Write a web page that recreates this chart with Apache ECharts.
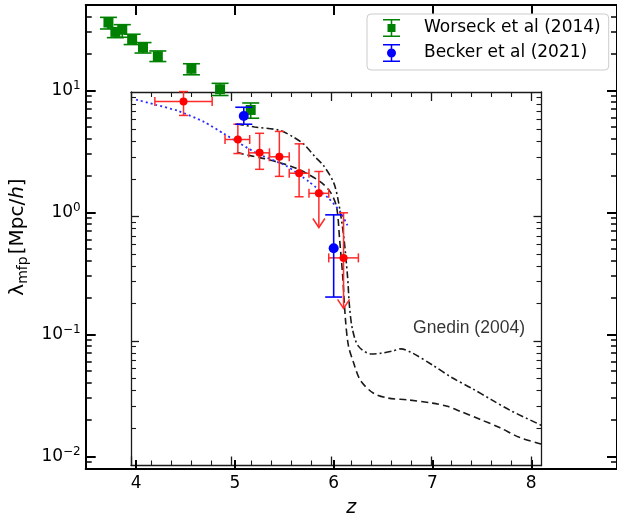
<!DOCTYPE html>
<html><head><meta charset="utf-8">
<script src="https://cdn.jsdelivr.net/npm/echarts@6/dist/echarts.min.js"></script>
<style>html,body{margin:0;padding:0;background:#fff}#c{width:617px;height:523px}</style>
</head><body><div id="c"></div>
<script>
// ---------------- data ----------------
const worseckZ  = [3.72, 3.79, 3.86, 3.96, 4.07, 4.22, 4.56, 4.85, 5.16];
const worseckL  = [35.9, 30.1, 31.4, 26.1, 22.4, 19.0, 15.0, 10.2, 6.9];
const worseckLo = [31.8, 27.0, 27.2, 23.7, 20.2, 17.2, 13.4, 9.06, 5.9];
const worseckHi = [39.6, 32.4, 34.5, 28.8, 24.6, 21.0, 16.5, 11.4, 7.87];

const beckerZ  = [5.09, 6.0];
const beckerL  = [6.15, 0.508];
const beckerLo = [5.27, 0.202];
const beckerHi = [7.26, 0.953];

const redZ   = [4.48, 5.03, 5.25, 5.45, 5.65, 5.85, 6.10];
const redL   = [8.1, 3.95, 3.07, 2.85, 2.09, 1.43, 0.423];
const redHi  = [9.76, 5.27, 4.44, 4.6, 3.64, 2.16, 0.99];
const redLo  = [6.22, 3.03, 2.25, 1.97, 1.34, 0.75, 0.163];
const redZlo = [4.19, 4.90, 5.14, 5.35, 5.55, 5.75, 5.95];
const redZhi = [4.77, 5.15, 5.35, 5.55, 5.75, 5.95, 6.25];
const redUpperLimit = [0, 0, 0, 0, 0, 1, 1];

const fitZ = [4.0, 4.2, 4.42, 4.69, 4.89, 5.22, 5.52, 5.75, 5.95, 6.07, 6.14];
const fitL = [8.4, 7.6, 6.8, 5.5, 4.4, 3.05, 2.4, 1.78, 1.3, 1.0, 0.78];

const ddZ = [5.02, 5.2, 5.45, 5.6, 5.7, 5.82, 5.9, 6.0, 6.05, 6.1, 6.14, 6.16, 6.19, 6.25, 6.38, 6.48, 6.6, 6.68, 6.8, 7.0, 7.2, 7.4, 7.6, 7.8, 8.1];
const ddL = [5.3, 5.0, 4.7, 4.1, 3.6, 2.8, 2.4, 1.75, 1.2, 0.65, 0.3, 0.17, 0.11, 0.08, 0.069, 0.07, 0.073, 0.076, 0.07, 0.056, 0.044, 0.036, 0.029, 0.0235, 0.018];

const dashZ = [5.02, 5.12, 5.3, 5.49, 5.62, 5.75, 5.88, 5.97, 6.03, 6.06, 6.09, 6.12, 6.15, 6.2, 6.27, 6.4, 6.55, 6.75, 7.0, 7.15, 7.28, 7.48, 7.68, 7.88, 8.1];
const dashL = [3.1, 2.95, 2.75, 2.5, 2.3, 2.03, 1.74, 1.45, 1.1, 0.6, 0.31, 0.13, 0.08, 0.059, 0.042, 0.033, 0.030, 0.029, 0.0273, 0.0257, 0.0234, 0.0201, 0.0172, 0.0143, 0.0126];

const annoZ = [7.37];
const annoL = [0.1125];
const annoText = ['Gnedin (2004)'];

const seriesNames = ['Worseck et al (2014)', 'Becker et al (2021)'];

// ticks
const xMajor = [4, 5, 6, 7, 8];
const insetXMinor = [4.2,4.4,4.6,4.8,5.2,5.4,5.6,5.8,6.2,6.4,6.6,6.8,7.2,7.4,7.6,7.8];
const yMajor = [0.01, 0.1, 1, 10];
const yMinorMain = [0.009,0.02,0.03,0.04,0.05,0.06,0.07,0.08,0.09,0.2,0.3,0.4,0.5,0.6,0.7,0.8,0.9,2,3,4,5,6,7,8,9,20,30,40];
const insetYMajor = [0.1, 1];
const insetYMinor = [0.02,0.03,0.04,0.05,0.06,0.07,0.08,0.09,0.2,0.3,0.4,0.5,0.6,0.7,0.8,0.9,2,3,4,5,6,7,8,9];

// ---------------- chart ----------------
const FONT = 'DejaVu Sans';
const GREEN = '#008000', BLUE = '#0000ff', RED = '#ff0000', INK = '#1a1a1a';
const chart = echarts.init(document.getElementById('c'), null, {renderer: 'canvas'});

function xAx(grid, pos, min, max, vals, len, w, col, line, extra) {
  return Object.assign({
    type: 'value', gridIndex: grid, position: pos, min: min, max: max,
    axisLine: {show: line, onZero: false, lineStyle: {color: col, width: w}},
    axisTick: {show: true, inside: true, length: len, customValues: vals, lineStyle: {color: col, width: w}},
    axisLabel: {show: false}, splitLine: {show: false}
  }, extra || {});
}
function yAx(grid, pos, min, max, vals, len, w, col, line, extra) {
  return Object.assign({
    type: 'log', logBase: 10, gridIndex: grid, position: pos, min: min, max: max,
    axisLine: {show: line, onZero: false, lineStyle: {color: col, width: w}},
    axisTick: {show: true, inside: true, length: len, customValues: vals, lineStyle: {color: col, width: w}},
    axisLabel: {show: false}, splitLine: {show: false}
  }, extra || {});
}

const X0 = 3.49, X1 = 8.868, Y0 = 0.00787, Y1 = 50;

const xAxes = [
  xAx(0, 'bottom', X0, X1, xMajor, 9, 2, '#000', true, {
    axisLabel: {show: true, customValues: xMajor, margin: 6, fontSize: 17, fontFamily: FONT, color: '#000'},
    name: 'z', nameLocation: 'middle', nameGap: 30,
    nameTextStyle: {fontSize: 19, fontFamily: FONT, fontStyle: 'italic', color: '#000'}
  }),
  xAx(0, 'top', X0, X1, xMajor, 10, 2, '#000', true),
  xAx(1, 'bottom', 4, 8.1, xMajor, 9, 1.3, INK, true),
  xAx(1, 'bottom', 4, 8.1, insetXMinor, 5, 1.1, INK, false),
  xAx(1, 'top', 4, 8.1, xMajor, 9, 1.3, INK, true),
  xAx(1, 'top', 4, 8.1, insetXMinor, 5, 1.1, INK, false)
];

const yAxes = [
  yAx(0, 'left', Y0, Y1, yMajor, 10, 2, '#000', true, {
    axisLabel: {show: true, customValues: yMajor, margin: 5, fontFamily: FONT, color: '#000',
      formatter: function (v) {
        const e = Math.round(Math.log10(v));
        return '{b|10}{s|' + (e < 0 ? '\u2212' + (-e) : String(e)) + '}';
      },
      rich: {
        b: {fontSize: 17, fontFamily: FONT, color: '#000', lineHeight: 20},
        s: {fontSize: 12, fontFamily: FONT, color: '#000', verticalAlign: 'top', lineHeight: 12}
      }
    },
    name: '{l|\u03bb}{m|mfp}{l|[Mpc/}{i|h}{l|]}', nameLocation: 'middle', nameGap: 48, nameRotate: 90,
    nameTextStyle: {
      rich: {
        l: {fontSize: 20, fontFamily: FONT, color: '#000', lineHeight: 25},
        i: {fontSize: 20, fontFamily: FONT, fontStyle: 'italic', color: '#000', lineHeight: 25},
        m: {fontSize: 14, fontFamily: FONT, color: '#000', verticalAlign: 'bottom', lineHeight: 15, padding: [0, 2, 0, 0]}
      }
    }
  }),
  yAx(0, 'left', Y0, Y1, yMinorMain, 6, 1.5, '#000', false),
  yAx(0, 'right', Y0, Y1, yMajor, 10, 2, '#000', true),
  yAx(0, 'right', Y0, Y1, yMinorMain, 6, 1.5, '#000', false),
  yAx(1, 'left', 0.01, 10, insetYMajor, 8, 1.3, INK, true),
  yAx(1, 'left', 0.01, 10, insetYMinor, 5, 1.1, INK, false),
  yAx(1, 'right', 0.01, 10, insetYMajor, 8, 1.3, INK, true),
  yAx(1, 'right', 0.01, 10, insetYMinor, 5, 1.1, INK, false)
];

function lineEl(x1, y1, x2, y2, st) {
  return {type: 'line', shape: {x1: x1, y1: y1, x2: x2, y2: y2}, style: st};
}

function makeErr(color, marker) {
  return function (params, api) {
    const z = api.value(0), l = api.value(1), lo = api.value(2), hi = api.value(3);
    const p = api.coord([z, l]), a = api.coord([z, hi]), b = api.coord([z, lo]);
    const st = {stroke: color, lineWidth: 1.6, fill: null};
    const ch = [
      lineEl(p[0], a[1], p[0], b[1], st),
      lineEl(p[0] - 8.5, a[1], p[0] + 8.5, a[1], st),
      lineEl(p[0] - 8.5, b[1], p[0] + 8.5, b[1], st)
    ];
    if (marker === 'square') {
      ch.push({type: 'rect', shape: {x: p[0] - 5, y: p[1] - 5, width: 10, height: 10}, style: {fill: color}});
    } else {
      ch.push({type: 'circle', shape: {cx: p[0], cy: p[1], r: 5}, style: {fill: color}});
    }
    return {type: 'group', children: ch};
  };
}

function renderRed(params, api) {
  const z = api.value(0), l = api.value(1), lo = api.value(2), hi = api.value(3);
  const zl = api.value(4), zh = api.value(5), ul = api.value(6);
  const p = api.coord([z, l]), t = api.coord([z, hi]), b = api.coord([z, lo]);
  const L = api.coord([zl, l]), R = api.coord([zh, l]);
  const st = {stroke: '#ff2a2a', lineWidth: 1.5, fill: null};
  const ch = [
    lineEl(p[0], t[1], p[0], b[1], st),
    lineEl(p[0] - 4.5, t[1], p[0] + 4.5, t[1], st),
    lineEl(L[0], p[1], R[0], p[1], st),
    lineEl(L[0], p[1] - 4.5, L[0], p[1] + 4.5, st),
    lineEl(R[0], p[1] - 4.5, R[0], p[1] + 4.5, st)
  ];
  if (ul) {
    ch.push({type: 'polyline', shape: {points: [[p[0] - 6, b[1] - 9], [p[0], b[1]], [p[0] + 6, b[1] - 9]]},
      style: {stroke: '#ff2a2a', lineWidth: 1.5, fill: 'none'}});
  } else {
    ch.push(lineEl(p[0] - 4.5, b[1], p[0] + 4.5, b[1], st));
  }
  ch.push({type: 'circle', shape: {cx: p[0], cy: p[1], r: 4}, style: {fill: RED}});
  return {type: 'group', children: ch};
}

const zip = (a, b) => a.map((v, i) => [v, b[i]]);

const greenIcon = 'path://M0,0H17V1.5H0Z M7.75,1.5H9.25V16.5H7.75Z M0,16.5H17V18H0Z M4.5,5H12.5V13H4.5Z';
const blueIcon = 'path://M0,0H17V1.5H0Z M7.75,1.5H9.25V16.5H7.75Z M0,16.5H17V18H0Z M4,9A4.5,4.5 0 1 1 13,9A4.5,4.5 0 1 1 4,9Z';

const option = {
  animation: false,
  backgroundColor: '#fff',
  grid: [
    {left: 80, top: 5, right: -2, bottom: 44},
    {left: 131, top: 92, right: 75.5, bottom: 57.5}
  ],
  xAxis: xAxes,
  yAxis: yAxes,
  legend: {
    orient: 'vertical', left: 367, top: 14,
    padding: [5, 8, 8, 16], itemGap: 7, itemWidth: 17, itemHeight: 18,
    borderColor: '#cccccc', borderWidth: 1, borderRadius: 4, backgroundColor: '#fff',
    textStyle: {fontSize: 17, fontFamily: FONT, color: '#000', padding: [0, 0, 0, 19]},
    selectedMode: false,
    data: [{name: seriesNames[0], icon: greenIcon}, {name: seriesNames[1], icon: blueIcon}]
  },
  series: [
    {type: 'line', name: 'gnedin-dd', xAxisIndex: 0, yAxisIndex: 0, data: zip(ddZ, ddL), showSymbol: false, smooth: 0.3,
      lineStyle: {color: INK, width: 1.6, type: [7, 3, 2, 3]}, silent: true, z: 2},
    {type: 'line', name: 'gnedin-dash', xAxisIndex: 0, yAxisIndex: 0, data: zip(dashZ, dashL), showSymbol: false, smooth: 0.3,
      lineStyle: {color: INK, width: 1.6, type: [7, 4]}, silent: true, z: 2},
    {type: 'line', name: 'fit', xAxisIndex: 0, yAxisIndex: 0, data: zip(fitZ, fitL), showSymbol: false, smooth: 0.2,
      lineStyle: {color: '#2b2bff', width: 1.8, type: [2, 3]}, silent: true, z: 3},
    {type: 'custom', name: 'red', xAxisIndex: 0, yAxisIndex: 0, renderItem: renderRed, clip: false, z: 4,
      encode: {x: 0, y: 1},
      data: redZ.map((z, i) => [z, redL[i], redLo[i], redHi[i], redZlo[i], redZhi[i], redUpperLimit[i]])},
    {type: 'custom', name: seriesNames[0], xAxisIndex: 0, yAxisIndex: 0, renderItem: makeErr(GREEN, 'square'), clip: false, z: 6,
      itemStyle: {color: GREEN}, encode: {x: 0, y: 1},
      data: worseckZ.map((z, i) => [z, worseckL[i], worseckLo[i], worseckHi[i]])},
    {type: 'custom', name: seriesNames[1], xAxisIndex: 0, yAxisIndex: 0, renderItem: makeErr(BLUE, 'circle'), clip: false, z: 6,
      itemStyle: {color: BLUE}, encode: {x: 0, y: 1},
      data: beckerZ.map((z, i) => [z, beckerL[i], beckerLo[i], beckerHi[i]])},
    {type: 'scatter', name: 'anno', xAxisIndex: 0, yAxisIndex: 0, data: zip(annoZ, annoL), symbolSize: 1,
      itemStyle: {color: 'rgba(0,0,0,0)'}, silent: true,
      label: {show: true, position: 'inside', formatter: (p) => annoText[p.dataIndex],
        fontSize: 17.5, fontFamily: 'Liberation Sans', color: '#000', textBorderWidth: 0}}
  ]
};
chart.setOption(option);
</script>
</body></html>
